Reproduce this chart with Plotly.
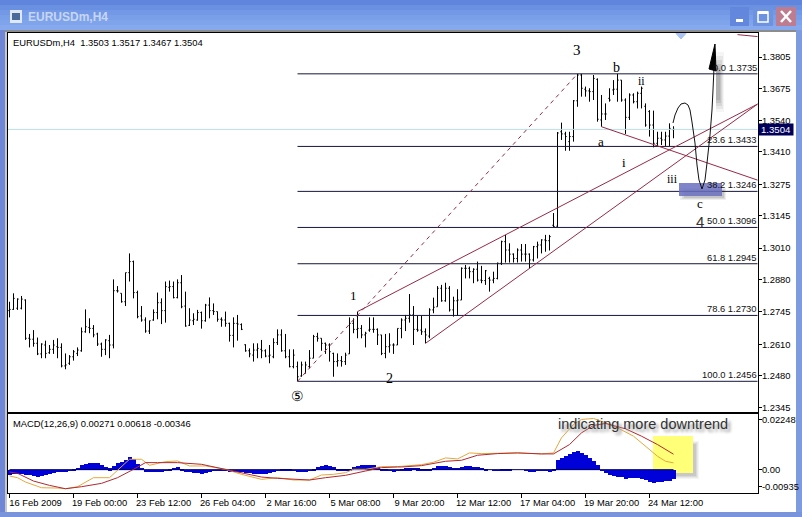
import plotly.graph_objects as go

high = [1.2787,1.2822,1.2801,1.2811,1.2797,1.2653,1.2669,1.2638,1.2614,1.2625,
1.2607,1.2628,1.2635,1.2614,1.2572,1.2565,1.2586,1.2597,1.2680,1.2755,
1.2718,1.2690,1.2658,1.2617,1.2631,1.2649,1.2880,1.2852,1.2822,1.2908,
1.2988,1.2958,1.2833,1.2769,1.2722,1.2708,1.2755,1.2825,1.2801,1.2871,
1.2875,1.2871,1.2880,1.2898,1.2829,1.2760,1.2739,1.2753,1.2746,1.2778,
1.2805,1.2780,1.2746,1.2722,1.2746,1.2700,1.2722,1.2732,1.2697,1.2610,
1.2593,1.2614,1.2614,1.2628,1.2589,1.2607,1.2635,1.2672,1.2672,1.2653,
1.2589,1.2589,1.2538,1.2538,1.2538,1.2586,1.2649,1.2658,1.2635,1.2617,
1.2614,1.2575,1.2572,1.2561,1.2575,1.2722,1.2718,1.2746,1.2690,1.2662,
1.2722,1.2722,1.2676,1.2649,1.2653,1.2656,1.2614,1.2676,1.2718,1.2732,
1.2819,1.2769,1.2728,1.2728,1.2676,1.2760,1.2804,1.2852,1.2857,1.2866,
1.2852,1.2808,1.2839,1.2930,1.2940,1.2933,1.2926,1.2954,1.2936,1.2919,
1.2891,1.2912,1.2950,1.3041,1.3065,1.3030,1.2988,1.3009,1.3027,1.3027,
1.2988,1.3019,1.3037,1.3047,1.3065,1.3065,1.3156,1.3493,1.3532,1.3494,
1.3494,1.3626,1.3735,1.3735,1.3682,1.3675,1.3730,1.3716,1.3647,1.3612,
1.3675,1.3709,1.3735,1.3709,1.3633,1.3654,1.3654,1.3661,1.3682,1.3612,
1.3584,1.3582,1.3494,1.3494,1.3494,1.3529,1.3517]
low = [1.2722,1.2753,1.2753,1.2755,1.2628,1.2597,1.2600,1.2565,1.2552,1.2552,
1.2570,1.2570,1.2552,1.2514,1.2506,1.2524,1.2542,1.2561,1.2579,1.2658,
1.2656,1.2639,1.2603,1.2558,1.2565,1.2552,1.2593,1.2825,1.2783,1.2769,
1.2871,1.2801,1.2718,1.2704,1.2658,1.2653,1.2708,1.2714,1.2694,1.2700,
1.2829,1.2801,1.2801,1.2760,1.2683,1.2686,1.2690,1.2708,1.2675,1.2704,
1.2718,1.2732,1.2704,1.2683,1.2683,1.2621,1.2597,1.2625,1.2669,1.2579,
1.2556,1.2538,1.2552,1.2552,1.2556,1.2531,1.2552,1.2607,1.2579,1.2552,
1.2514,1.2510,1.2456,1.2475,1.2489,1.2510,1.2552,1.2621,1.2583,1.2570,
1.2538,1.2475,1.2517,1.2517,1.2524,1.2570,1.2656,1.2635,1.2635,1.2597,
1.2662,1.2658,1.2607,1.2565,1.2552,1.2575,1.2570,1.2607,1.2635,1.2665,
1.2700,1.2607,1.2662,1.2649,1.2614,1.2635,1.2739,1.2766,1.2787,1.2787,
1.2746,1.2725,1.2728,1.2794,1.2884,1.2884,1.2864,1.2871,1.2864,1.2857,
1.2829,1.2864,1.2880,1.2940,1.2950,1.2950,1.2950,1.2950,1.2954,1.2954,
1.2926,1.2954,1.2967,1.2988,1.2995,1.3000,1.3098,1.3098,1.3460,1.3415,
1.3415,1.3453,1.3598,1.3640,1.3640,1.3619,1.3626,1.3536,1.3515,1.3543,
1.3619,1.3647,1.3619,1.3619,1.3485,1.3543,1.3612,1.3591,1.3591,1.3515,
1.3474,1.3429,1.3435,1.3439,1.3435,1.3435,1.3467]
opens = [1.2750,1.2755,1.2760,1.2760,1.2794,1.2635,1.2631,1.2614,1.2570,1.2607,
1.2575,1.2589,1.2600,1.2597,1.2520,1.2531,1.2558,1.2572,1.2583,1.2662,
1.2680,1.2676,1.2653,1.2611,1.2589,1.2625,1.2607,1.2833,1.2822,1.2787,
1.2908,1.2954,1.2825,1.2728,1.2711,1.2665,1.2711,1.2742,1.2783,1.2750,
1.2847,1.2850,1.2804,1.2866,1.2769,1.2689,1.2708,1.2711,1.2742,1.2708,
1.2773,1.2750,1.2746,1.2714,1.2711,1.2697,1.2647,1.2697,1.2692,1.2608,
1.2583,1.2565,1.2586,1.2589,1.2583,1.2561,1.2558,1.2617,1.2649,1.2583,
1.2558,1.2517,1.2517,1.2478,1.2489,1.2517,1.2552,1.2642,1.2635,1.2614,
1.2607,1.2572,1.2538,1.2542,1.2538,1.2570,1.2697,1.2672,1.2676,1.2649,
1.2669,1.2672,1.2672,1.2649,1.2572,1.2600,1.2607,1.2607,1.2676,1.2711,
1.2718,1.2732,1.2672,1.2669,1.2662,1.2644,1.2753,1.2766,1.2843,1.2791,
1.2843,1.2753,1.2791,1.2794,1.2926,1.2926,1.2912,1.2922,1.2877,1.2875,
1.2884,1.2877,1.2884,1.2947,1.3037,1.3002,1.2985,1.2967,1.3002,1.2985,
1.2985,1.2961,1.3016,1.3023,1.3044,1.3041,1.3105,1.3101,1.3494,1.3485,
1.3453,1.3474,1.3623,1.3730,1.3671,1.3664,1.3661,1.3712,1.3543,1.3568,
1.3633,1.3668,1.3671,1.3709,1.3626,1.3554,1.3647,1.3619,1.3654,1.3600,
1.3578,1.3522,1.3446,1.3467,1.3460,1.3476,1.3503]
close = [1.2755,1.2801,1.2798,1.2798,1.2635,1.2631,1.2614,1.2570,1.2611,1.2572,
1.2589,1.2607,1.2597,1.2520,1.2524,1.2558,1.2579,1.2586,1.2662,1.2683,
1.2676,1.2649,1.2611,1.2589,1.2628,1.2607,1.2833,1.2832,1.2787,1.2908,
1.2954,1.2825,1.2725,1.2711,1.2665,1.2708,1.2742,1.2783,1.2750,1.2850,
1.2850,1.2804,1.2866,1.2766,1.2686,1.2711,1.2714,1.2742,1.2708,1.2773,
1.2750,1.2746,1.2714,1.2711,1.2697,1.2647,1.2697,1.2694,1.2672,1.2583,
1.2570,1.2586,1.2593,1.2583,1.2561,1.2565,1.2617,1.2649,1.2583,1.2558,
1.2517,1.2565,1.2475,1.2524,1.2524,1.2552,1.2642,1.2635,1.2614,1.2607,
1.2579,1.2538,1.2542,1.2538,1.2565,1.2697,1.2672,1.2676,1.2649,1.2656,
1.2672,1.2672,1.2649,1.2572,1.2600,1.2607,1.2607,1.2676,1.2711,1.2718,
1.2732,1.2672,1.2669,1.2662,1.2649,1.2753,1.2764,1.2843,1.2791,1.2843,
1.2753,1.2791,1.2794,1.2926,1.2926,1.2912,1.2922,1.2877,1.2875,1.2916,
1.2877,1.2884,1.2947,1.3037,1.3002,1.2985,1.2967,1.3002,1.2985,1.2985,
1.2961,1.3016,1.3023,1.3044,1.3041,1.3058,1.3100,1.3489,1.3485,1.3474,
1.3474,1.3623,1.3730,1.3675,1.3664,1.3661,1.3716,1.3546,1.3568,1.3568,
1.3626,1.3671,1.3709,1.3626,1.3554,1.3647,1.3619,1.3654,1.3675,1.3522,
1.3522,1.3446,1.3467,1.3460,1.3476,1.3508,1.3504]
macd_hist = [-.00188,-.00174,-.00161,-.00174,-.00188,-.00214,-.00241,-.00255,-.00241,-.00188,
-.00147,-.00121,-.0008,-.00067,-.0004,-.00013,.00027,.0008,.00188,.00255,
.00295,.00281,.00268,.00188,.00121,.00067,.00174,.00268,.00322,.00402,
.00509,.00429,.00241,.0008,-.0004,-.00094,-.00094,-.00094,-.0008,-.00027,
.0004,.0008,.00107,.0004,-.0004,-.00067,-.00107,-.00134,-.00161,-.00121,
-.0008,-.00027,-.00013,-.00027,-.00027,-.0004,-.00067,-.0008,-.00094,-.00121,
-.00134,-.00161,-.00161,-.00161,-.00147,-.00134,-.00067,-.00013,.00027,.00027,
.00013,-.00027,-.0004,-.0004,-.0004,-.00027,.0004,.00134,.00174,.00188,
.00161,.00107,.00054,.00027,.00027,.0004,.00134,.00161,.00188,.00201,
.00201,.00188,.00121,.00054,.00013,-.00027,-.0004,-.00013,.00054,.00067,
.00067,.0008,.00067,.00054,.00013,.00013,.0008,.00161,.00174,.00147,
.00107,.0008,.00094,.00134,.00161,.00161,.00134,.00107,.0008,.0004,
0,-.00027,-.00027,.00013,.0004,.00013,0,0,0,-.00013,
-.0004,-.0004,-.00027,-.00013,-.00027,-.0004,.00013,.00402,.00496,.00563,
.00643,.0071,.0075,.0067,.00603,.00482,.00375,.00188,-.00027,-.00121,
-.00188,-.00241,-.00268,-.00281,-.00335,-.00322,-.00295,-.00308,-.00335,-.00389,
-.00456,-.00496,-.00482,-.00469,-.00442,-.00429,-.00346]
fast_bar = [0,2,4,8,12,14,17,21,25,27,30,33,35,39,42,45,49,54,58,63,67,71,75,78,81,84,86,89,93,97,
98,103,106,109,112,115,118,122,127,133,136,138,141,143,146,149,152,156,159,162,164,166]
fast_line = [-.00255,-.00322,-.00496,-.00724,-.00737,-.00764,-.00683,-.00322,-.00322,-.00013,.00415,.00415,.00174,.00322,.00348,.00147,.00147,.00013,-.00188,-.00389,-.00322,-.00415,-.00415,-.00214,-.00188,-.00121,.00013,.00013,.00121,.00121,
.00134,.00201,.00295,.00469,.00429,.0067,.00643,.00643,.0067,.0063,.0067,.01273,.01809,.0201,.0205,.01876,.01675,.0134,.00938,.00536,.00335,.00271]
slow_bar = [0,2,6,10,14,18,23,27,31,34,37,42,48,52,56,63,67,71,75,79,84,89,93,97,98,103,109,113,117,122,127,133,136,140,143,146,149,154,158,162,166]
slow_line = [-.00094,-.00147,-.00456,-.0063,-.00764,-.00683,-.00549,-.00322,.00013,.00281,.00281,.00281,.00214,.0008,-.0008,-.00295,-.00348,-.00389,-.00415,-.00322,-.00228,-.00054,.0008,.00107,.00107,.00161,.00335,.00375,.00576,.00643,.0067,.0063,.0063,.01005,.01474,.01769,.01849,.01635,.0134,.01005,.00618]

bar_index = list(range(len(close)))
fib_levels = [1.3735, 1.3433, 1.3246, 1.3096, 1.2945, 1.2730, 1.2456]
fib_labels = ["0.0 1.3735", "23.6 1.3433", "38.2 1.3246", "50.0 1.3096", "61.8 1.2945", "78.6 1.2730", "100.0 1.2456"]
fib_start, last_bar = 72, 187
price_ticks = [1.3805,1.3675,1.3540,1.3410,1.3275,1.3145,1.3010,1.2880,1.2745,1.2610,1.2480,1.2345]
time_ticks = [0,16,32,48,64,80,96,112,128,144,160]
time_labels = ["16 Feb 2009","19 Feb 00:00","23 Feb 12:00","26 Feb 04:00","2 Mar 16:00","5 Mar 08:00",
               "9 Mar 20:00","12 Mar 12:00","17 Mar 04:00","19 Mar 20:00","24 Mar 12:00"]
trend_lines = [([87,187],[1.2746,1.3609]), ([104,187],[1.2614,1.3609]), ([148,187],[1.3515,1.3293]), ([182,187],[1.3898,1.3890])]
dash_x, dash_y = [72,142],[1.2456,1.3735]
current_price = 1.3504

W, H = 802, 517
def fx(p): return p / W
def fy(p): return 1 - p / H
FONT = "Liberation Sans"
SERIF = "Liberation Serif"
NAVY = "#16163c"
RED = "#962a46"

fig = go.Figure()
fig.add_trace(go.Ohlc(x=bar_index, open=opens, high=high, low=low, close=close, tickwidth=0.3,
                      increasing=dict(line=dict(color="#000", width=1)),
                      decreasing=dict(line=dict(color="#000", width=1)), xaxis="x", yaxis="y"))
fig.add_trace(go.Scatter(x=[-1,last_bar],y=[current_price]*2,mode="lines",line=dict(color="#bcdde2",width=1)))
for lv in fib_levels:
    fig.add_trace(go.Scatter(x=[fib_start,last_bar],y=[lv,lv],mode="lines",line=dict(color=NAVY,width=1)))
fig.add_trace(go.Scatter(x=dash_x,y=dash_y,mode="lines",line=dict(color=RED,width=1,dash="4px,4px")))
for xs,ys in trend_lines:
    fig.add_trace(go.Scatter(x=xs,y=ys,mode="lines",line=dict(color=RED,width=1)))
fig.add_trace(go.Bar(x=bar_index,y=macd_hist,width=1,marker=dict(color="#0000d8",line=dict(width=0)),xaxis="x2",yaxis="y2"))
fig.add_trace(go.Scatter(x=[0,166],y=[0,0],mode="lines",line=dict(color="#000060",width=1),xaxis="x2",yaxis="y2"))
fig.add_trace(go.Scatter(x=fast_bar,y=fast_line,mode="lines",line=dict(color="#e4a83c",width=1),xaxis="x2",yaxis="y2"))
fig.add_trace(go.Scatter(x=slow_bar,y=slow_line,mode="lines",line=dict(color="#b02a30",width=1),xaxis="x2",yaxis="y2"))

def rect(x0,y0,x1,y1,color,layer="below",op=1):
    return dict(type="rect",xref="paper",yref="paper",x0=fx(x0),x1=fx(x1),y0=fy(y0),y1=fy(y1),
                fillcolor=color,line=dict(width=0),layer=layer,opacity=op)
def poly(pts,fill=None,color="#000",width=1,closed=False,layer="above"):
    s="M "+" L ".join(f"{fx(a):.5f},{fy(b):.5f}" for a,b in pts)+(" Z" if closed else "")
    return dict(type="path",xref="paper",yref="paper",path=s,fillcolor=fill or "rgba(0,0,0,0)",line=dict(color=color,width=width),layer=layer)

shapes=[]
# window chrome
title_colors=["#5f86dc","#6a90e2","#7398e6","#7a9fe9","#80a4ec","#86a9ee"]
for k,c in enumerate(title_colors):
    shapes.append(rect(0,k*5,W,(k+1)*5,c))
shapes+= [rect(0,30,5,H,"#6f86d6"),rect(5,30,7,H,"#c8c8c8"),rect(796,30,W,H,"#7e9be0"),rect(0,512,W,H,"#7a94dc"),rect(5,30,796,32,"#8c8c8c")]
shapes+= [rect(730,7,749,26,"#6287dc"),rect(753,7,773,26,"#6c92e0"),rect(776,7,796,26,"#bd7c90"),
          rect(736,19,743,22,"#ffffff"),
          dict(type="rect",xref="paper",yref="paper",x0=fx(758),x1=fx(768),y0=fy(12),y1=fy(22),fillcolor="rgba(0,0,0,0)",line=dict(color="#ffffff",width=1.5),layer="below"),
          rect(758,11,768,14,"#ffffff")]
shapes.append(poly([(781,11),(791,22)],color="#ffffff",width=2.5))
shapes.append(poly([(791,11),(781,22)],color="#ffffff",width=2.5))
shapes+= [rect(10,10,22,23,"#dfe8f8"),rect(12,13,20,20,"#4a6a9a")]
# price-scale shift marker
shapes.append(poly([(676,33.5),(686,33.5),(681,39)],fill="#a9c4f2",color="#a9c4f2",closed=True,layer="above"))
# shadows and highlight boxes
for k,o in enumerate([0.10,0.13,0.16]):
    shapes.append(rect(683+k*2-3,188+k,726-k,200-k,"#555555",op=o))
shapes.append(rect(679,183,722,196,"#6a70c0",layer="above",op=0.85))
for k,o in enumerate([0.06,0.08,0.10,0.12]):
    shapes.append(rect(657+k,441+k,699-k,479-k,"#555555",op=o))
shapes.append(rect(653,436,693,473,"#ffff78"))
for k,o in enumerate([0.07,0.10,0.14,0.18,0.22]):
    shapes.append(rect(716,52+k*4,724-k,112-k*3,"#707070",op=o))
# hand-drawn wave path and arrow
arrow=[(673,123),(675,115),(678,108),(681,104),(685,103),(688,105),(690,110),(692,122),(695,143),(697,165),(699,180),(702,189),(705,180),(707,163),(710,135),(712,110),(713,90),(714,68)]
shapes.append(poly(arrow,color="#101010",width=1))
shapes.append(poly([(715,44),(709,69),(716,71)],fill="#000000",color="#000000",closed=True))

def txt(x,y,s,size=9.4,font=FONT,color="#000",xa="left",**kw):
    return dict(xref="paper",yref="paper",x=fx(x),y=fy(y),text=s,showarrow=False,xanchor=xa,yanchor="middle",
                font=dict(family=font,size=size,color=color,**kw),borderpad=0,bgcolor=None)
ann=[txt(27,17,"<b>EURUSDm,H4</b>",12,color="#c6d6f2"),
     txt(12,42,"EURUSDm,H4  1.3503 1.3517 1.3467 1.3504"),
     txt(12,423,"MACD(12,26,9) 0.00271 0.00618 -0.00346"),
     txt(557,424,"indicating more downtrend",14.5,color="#333",shadow="3px 3px 3px #999")]
for s,lv in zip(fib_labels,fib_levels):
    ann.append(dict(xref="x",yref="y",x=187,y=lv,text=s,showarrow=False,xanchor="right",yanchor="bottom",
                    font=dict(family=FONT,size=9.4,color="#111"),borderpad=0))
for x,y,s,size in [(577,50,"3",15),(616,67,"b",14),(641,81,"ii",12),(601,141,"a",13),(624,162,"i",13),(672,179,"iii",12),
                   (700,204,"c",13),(353,295,"1",13),(389,378,"2",14),(297,396,"⑤",14)]:
    ann.append(txt(x,y,s,size,font=SERIF,xa="center"))
ann.append(txt(700,221,"4",15,color="#333",xa="center"))
ann.append(dict(xref="paper",yref="y",x=fx(776),y=current_price,text="1.3504",showarrow=False,xanchor="center",yanchor="middle",
                font=dict(family=FONT,size=9.6,color="#fff"),bgcolor="#00005a",width=34,height=11,borderpad=0))

axis=dict(showgrid=False,zeroline=False,showline=True,mirror=True,linecolor="#000",linewidth=1)
tickfont=dict(family=FONT,size=9.4,color="#000")
xr=[-0.375,187.125]
xdom=[fx(8),fx(758)]
fig.update_layout(width=W,height=H,margin=dict(l=0,r=0,t=0,b=0),paper_bgcolor="#fff",plot_bgcolor="#fff",showlegend=False,bargap=0,
    xaxis=dict(axis,domain=xdom,range=xr,anchor="y",showticklabels=False,ticks="",rangeslider=dict(visible=False)),
    yaxis=dict(axis,domain=[fy(412),fy(33)],range=[1.3805-(412-57)/2404,1.3805+(57-33)/2404],side="right",anchor="x",
               tickmode="array",tickvals=price_ticks,ticktext=[f"{v:.4f}" for v in price_ticks],ticks="outside",ticklen=3,tickcolor="#000",tickfont=tickfont,ticklabelstandoff=-2),
    xaxis2=dict(axis,domain=xdom,range=xr,anchor="y2",tickmode="array",tickvals=time_ticks,ticktext=time_labels,ticks="outside",ticklen=4,tickcolor="#000",
                tickfont=tickfont,ticklabelshift=26,tickangle=0,ticklabelstandoff=-3),
    yaxis2=dict(axis,domain=[fy(493),fy(413.5)],range=[-0.00935,0.02248],side="right",anchor="x2",
                tickmode="array",tickvals=[0.02006,0,-0.00693],ticktext=["0.02248","0.00","-0.00935"],ticks="outside",ticklen=3,tickcolor="#000",tickfont=tickfont,ticklabelstandoff=-2),
    shapes=shapes,annotations=ann)
fig.write_html("out.html",config=dict(displayModeBar=False),
    post_script="document.body.style.margin='0';document.documentElement.style.overflow='hidden';")
